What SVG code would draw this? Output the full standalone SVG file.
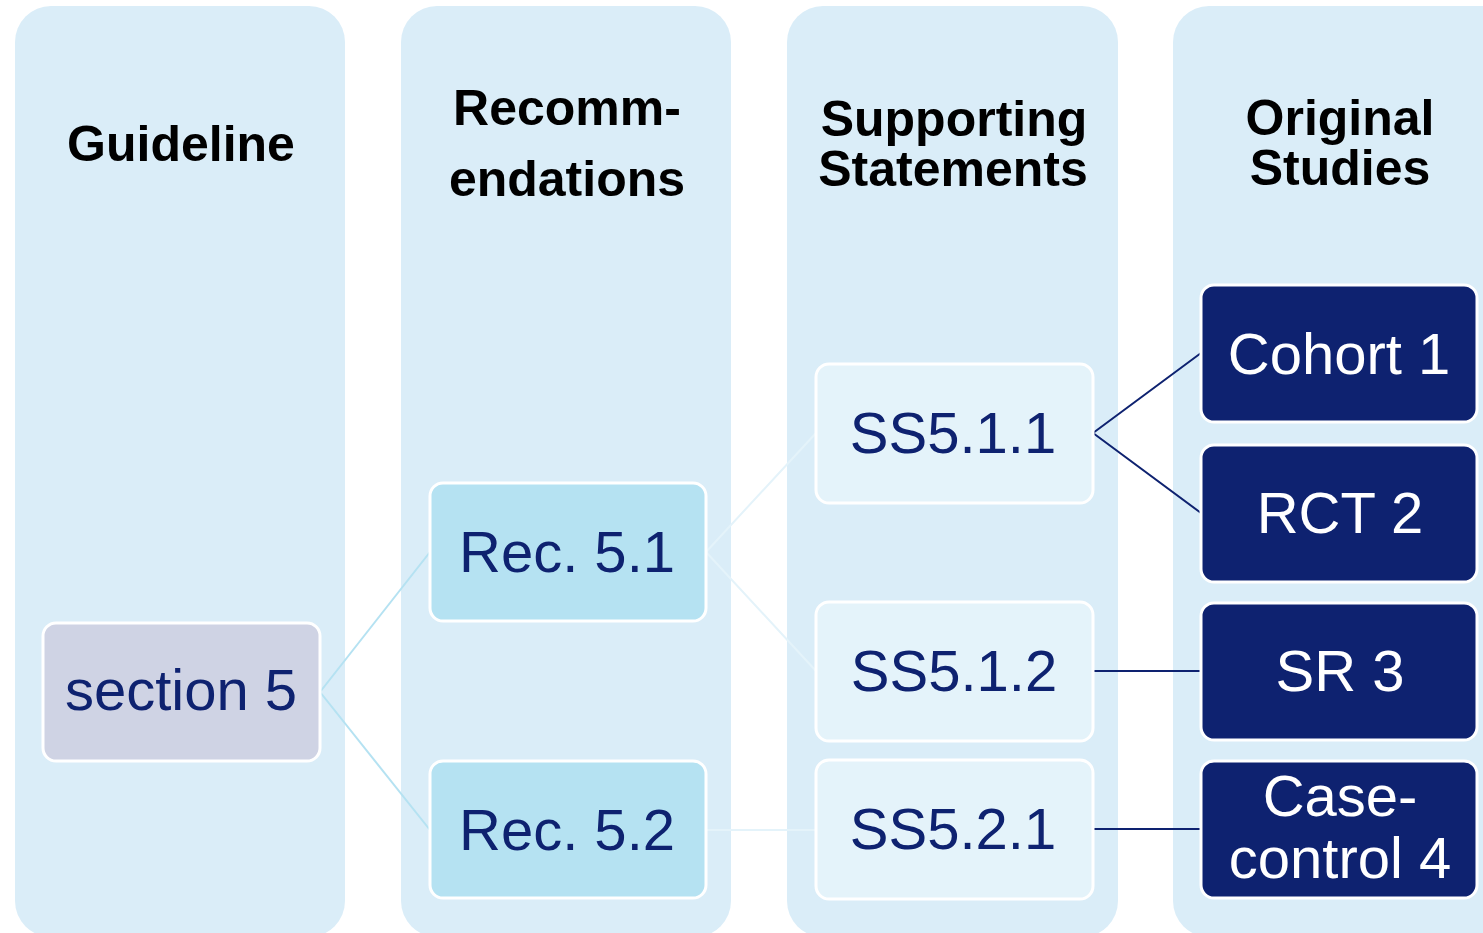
<svg xmlns="http://www.w3.org/2000/svg" width="1483" height="933" viewBox="0 0 1483 933">
<style>
.panel{fill:#daedf8}
.hdr{font-family:"Liberation Sans",Arial,sans-serif;font-weight:bold;font-size:50px;fill:#000;text-anchor:middle}
.lbl{font-family:"Liberation Sans",Arial,sans-serif;font-size:58px;text-anchor:middle}
.sec{fill:#cfd3e4;stroke:#fff;stroke-width:3}
.rec{fill:#b5e2f2;stroke:#fff;stroke-width:3}
.ss{fill:#e4f3fa;stroke:#fff;stroke-width:3}
.st{fill:#0e2270;stroke:#fff;stroke-width:3}
.dk{fill:#0e2270}
.wt{fill:#fff}
</style>
<rect width="1483" height="933" fill="#fff"/>
<g id="panels">
<rect class="panel" x="15" y="6" width="330" height="931" rx="36"/>
<rect class="panel" x="401" y="6" width="330" height="931" rx="36"/>
<rect class="panel" x="787" y="6" width="331" height="931" rx="36"/>
<rect class="panel" x="1173" y="6" width="360" height="931" rx="36"/>
<text class="hdr" x="181" y="161">Guideline</text>
<text class="hdr" x="567" y="125">Recomm-</text>
<text class="hdr" x="567" y="196">endations</text>
<text class="hdr" x="954" y="136">Supporting</text>
<text class="hdr" x="953" y="186">Statements</text>
<text class="hdr" x="1340" y="135">Original</text>
<text class="hdr" x="1340" y="185">Studies</text>
</g>
<g id="connectors" fill="none">
<path d="M320 692 L430 552 M320 692 L430 830" stroke="#b5e2f2" stroke-width="2"/>
<path d="M706 552 L816 433 M706 552 L816 671 M706 830 L816 830" stroke="#e4f3fa" stroke-width="2"/>
<path d="M1093 433 L1201 353 M1093 433 L1201 513 M1093 671 L1201 671 M1093 829 L1201 829" stroke="#0e2270" stroke-width="2"/>
</g>
<g id="section5"><rect class="sec" x="43" y="623" width="277" height="138" rx="13"/><text class="lbl dk" x="181" y="710">section 5</text></g>
<g id="rec51"><rect class="rec" x="430" y="483" width="276" height="138" rx="13"/><text class="lbl dk" x="567" y="572">Rec. 5.1</text></g>
<g id="rec52"><rect class="rec" x="430" y="761" width="276" height="137" rx="13"/><text class="lbl dk" x="567" y="850">Rec. 5.2</text></g>
<g id="ss511"><rect class="ss" x="816" y="364" width="277" height="139" rx="13"/><text class="lbl dk" x="953" y="453">SS5.1.1</text></g>
<g id="ss512"><rect class="ss" x="816" y="602" width="277" height="139" rx="13"/><text class="lbl dk" x="954" y="691">SS5.1.2</text></g>
<g id="ss521"><rect class="ss" x="816" y="760" width="277" height="139" rx="13"/><text class="lbl dk" x="953" y="849">SS5.2.1</text></g>
<g id="cohort1"><rect class="st" x="1201" y="285" width="276" height="137" rx="13"/><text class="lbl wt" x="1339" y="374">Cohort 1</text></g>
<g id="rct2"><rect class="st" x="1201" y="445" width="276" height="137" rx="13"/><text class="lbl wt" x="1340" y="533">RCT 2</text></g>
<g id="sr3"><rect class="st" x="1201" y="603" width="276" height="137" rx="13"/><text class="lbl wt" x="1340" y="691">SR 3</text></g>
<g id="casecontrol4"><rect class="st" x="1201" y="761" width="276" height="137" rx="13"/><text class="lbl wt" x="1340" y="816">Case-</text><text class="lbl wt" x="1340" y="878">control 4</text></g>
</svg>
